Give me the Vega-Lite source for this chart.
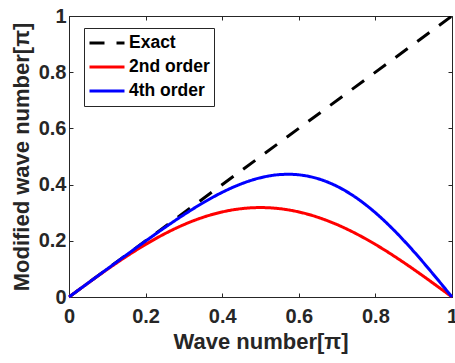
{
  "$schema": "https://vega.github.io/schema/vega-lite/v6.json",
  "width": 383,
  "height": 281,
  "autosize": {"type": "none"},
  "padding": {"left": 69, "top": 16, "right": 3, "bottom": 66},
  "background": "white",
  "config": {
    "font": "Liberation Sans",
    "view": {"stroke": "#262626", "strokeWidth": 1},
    "axis": {
      "grid": false,
      "domainColor": "#262626",
      "tickColor": "#262626",
      "labelColor": "#262626",
      "titleColor": "#262626",
      "labelFont": "Liberation Sans",
      "titleFont": "Liberation Sans",
      "labelFontSize": 20,
      "labelFontWeight": "bold",
      "titleFontSize": 22,
      "titleFontWeight": "bold",
      "tickSize": -4,
      "labelFlush": false,
      "labelOverlap": false
    },
    "legend": {
      "orient": "none",
      "legendX": 15,
      "legendY": 12,
      "strokeColor": "#262626",
      "fillColor": "white",
      "padding": 4,
      "symbolType": "stroke",
      "symbolSize": 1225,
      "symbolStrokeWidth": 3,
      "clipHeight": 22,
      "labelFont": "Liberation Sans",
      "labelFontSize": 17.5,
      "labelFontWeight": "bold",
      "labelColor": "black",
      "labelOffset": 3,
      "rowPadding": 2
    }
  },
  "datasets": {
    "exact": [
      {"k": 0, "m": 0, "series": "Exact"},
      {"k": 1, "m": 1, "series": "Exact"}
    ],
    "second": [
      {"k": 0, "m": 0, "series": "2nd order"},
      {"k": 0.05, "m": 0.049795, "series": "2nd order"},
      {"k": 0.1, "m": 0.098363, "series": "2nd order"},
      {"k": 0.15, "m": 0.14451, "series": "2nd order"},
      {"k": 0.2, "m": 0.187098, "series": "2nd order"},
      {"k": 0.25, "m": 0.225079, "series": "2nd order"},
      {"k": 0.3, "m": 0.257518, "series": "2nd order"},
      {"k": 0.35, "m": 0.283616, "series": "2nd order"},
      {"k": 0.4, "m": 0.302731, "series": "2nd order"},
      {"k": 0.45, "m": 0.314391, "series": "2nd order"},
      {"k": 0.5, "m": 0.31831, "series": "2nd order"},
      {"k": 0.55, "m": 0.314391, "series": "2nd order"},
      {"k": 0.6, "m": 0.302731, "series": "2nd order"},
      {"k": 0.65, "m": 0.283616, "series": "2nd order"},
      {"k": 0.7, "m": 0.257518, "series": "2nd order"},
      {"k": 0.75, "m": 0.225079, "series": "2nd order"},
      {"k": 0.8, "m": 0.187098, "series": "2nd order"},
      {"k": 0.85, "m": 0.14451, "series": "2nd order"},
      {"k": 0.9, "m": 0.098363, "series": "2nd order"},
      {"k": 0.95, "m": 0.049795, "series": "2nd order"},
      {"k": 1, "m": 0, "series": "2nd order"}
    ],
    "fourth": [
      {"k": 0, "m": 0, "series": "4th order"},
      {"k": 0.05, "m": 0.049999, "series": "4th order"},
      {"k": 0.1, "m": 0.099968, "series": "4th order"},
      {"k": 0.15, "m": 0.149759, "series": "4th order"},
      {"k": 0.2, "m": 0.199008, "series": "4th order"},
      {"k": 0.25, "m": 0.247054, "series": "4th order"},
      {"k": 0.3, "m": 0.292902, "series": "4th order"},
      {"k": 0.35, "m": 0.335235, "series": "4th order"},
      {"k": 0.4, "m": 0.372458, "series": "4th order"},
      {"k": 0.45, "m": 0.402793, "series": "4th order"},
      {"k": 0.5, "m": 0.424413, "series": "4th order"},
      {"k": 0.55, "m": 0.435581, "series": "4th order"},
      {"k": 0.575, "m": 0.436771, "series": "4th order"},
      {"k": 0.6, "m": 0.434823, "series": "4th order"},
      {"k": 0.65, "m": 0.421074, "series": "4th order"},
      {"k": 0.7, "m": 0.393812, "series": "4th order"},
      {"k": 0.75, "m": 0.353157, "series": "4th order"},
      {"k": 0.8, "m": 0.299919, "series": "4th order"},
      {"k": 0.85, "m": 0.235599, "series": "4th order"},
      {"k": 0.9, "m": 0.162334, "series": "4th order"},
      {"k": 0.95, "m": 0.082786, "series": "4th order"},
      {"k": 1, "m": 0, "series": "4th order"}
    ]
  },
  "encoding": {
    "color": {
      "field": "series", "type": "nominal", "title": null,
      "scale": {"domain": ["Exact", "2nd order", "4th order"], "range": ["#000000", "#FF0000", "#0000FF"]}
    },
    "strokeDash": {
      "field": "series", "type": "nominal", "title": null,
      "scale": {"domain": ["Exact", "2nd order", "4th order"], "range": [[15, 12], [1, 0], [1, 0]]}
    }
  },
  "layer": [
    {
      "data": {"name": "exact"},
      "mark": {"type": "line", "strokeWidth": 3, "clip": true},
      "encoding": {
        "x": {"field": "k", "type": "quantitative", "scale": {"domain": [0, 1], "nice": false}, "axis": {"orient": "bottom", "title": "Wave number[π]", "values": [0, 0.2, 0.4, 0.6, 0.8, 1], "format": "~g", "labelPadding": 13, "titlePadding": 5}},
        "y": {"field": "m", "type": "quantitative", "scale": {"domain": [0, 1], "nice": false}, "axis": {"orient": "left", "title": "Modified wave number[π]", "values": [0, 0.2, 0.4, 0.6, 0.8, 1], "format": "~g", "labelPadding": 7, "titlePadding": 5}}
      }
    },
    {
      "data": {"name": "second"},
      "mark": {"type": "line", "strokeWidth": 3, "interpolate": "monotone"},
      "encoding": {
        "x": {"field": "k", "type": "quantitative", "axis": null},
        "y": {"field": "m", "type": "quantitative", "axis": null}
      }
    },
    {
      "data": {"name": "fourth"},
      "mark": {"type": "line", "strokeWidth": 3, "interpolate": "monotone"},
      "encoding": {
        "x": {"field": "k", "type": "quantitative", "axis": {"orient": "top", "title": null, "labels": false, "values": [0, 0.2, 0.4, 0.6, 0.8, 1], "domain": false}},
        "y": {"field": "m", "type": "quantitative", "axis": {"orient": "right", "title": null, "labels": false, "values": [0, 0.2, 0.4, 0.6, 0.8, 1], "domain": false}}
      }
    }
  ],
  "resolve": {"axis": {"x": "independent", "y": "independent"}}
}
